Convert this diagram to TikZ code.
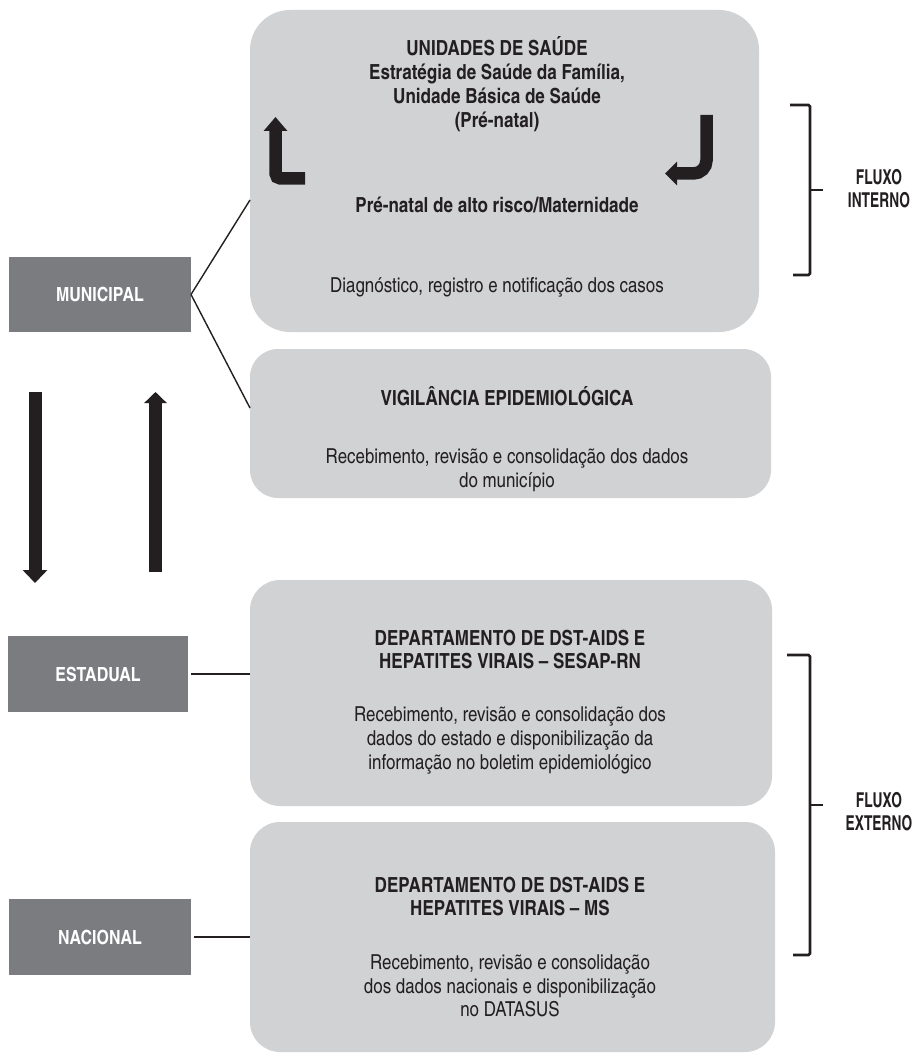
\documentclass[tikz,border=0pt]{standalone}
\usepackage{fontspec}
\setmainfont{texgyreheroscn}[Extension=.otf, UprightFont=*-regular, BoldFont=*-bold, ItalicFont=*-italic, BoldItalicFont=*-bolditalic]
\newfontfamily\lblfont{texgyreheroscn}[Extension=.otf, UprightFont=*-bold, FakeStretch=0.82]
\usetikzlibrary{arrows.meta}
\definecolor{boxgray}{HTML}{D1D2D4}
\definecolor{levelgray}{HTML}{7B7C80}
\definecolor{ink}{HTML}{231F20}
\tikzset{
  lbox/.style={draw=none, fill=boxgray, inner sep=0pt, outer sep=0pt},
  lvl/.style={draw=none, fill=levelgray, inner sep=0pt, outer sep=0pt, text=white,
    font=\fontsize{19.5}{24}\selectfont\bfseries},
  hd/.style={inner sep=0pt, anchor=base, text=ink, font=\fontsize{20.8}{24}\selectfont\bfseries},
  tx/.style={inner sep=0pt, anchor=base, text=ink, font=\fontsize{20.6}{24}\selectfont},
  flx/.style={inner sep=0pt, anchor=base, text=ink, font=\fontsize{20.5}{24}\lblfont},
  conn/.style={draw=ink, line width=1.4pt},
  fat/.style={draw=ink, line width=12.5pt},
  brk/.style={draw=ink, line width=2.6pt, rounded corners=1.5pt},
}
\begin{document}
\begin{tikzpicture}[x=1pt, y=-1pt]
\useasboundingbox[fill=white] (0,0) rectangle (914,1059);

% big grey boxes
\node[lbox, minimum width=509pt, minimum height=322pt, rounded corners=40pt] (ubs) at (504.5,171) {};
\node[lbox, minimum width=521pt, minimum height=149pt, rounded corners=28pt] (vig) at (510.5,423.5) {};
\node[lbox, minimum width=522pt, minimum height=226pt, rounded corners=30pt] (sesap) at (511,693) {};
\node[lbox, minimum width=525pt, minimum height=230pt, rounded corners=30pt] (ms) at (512.5,937) {};

% level boxes
\node[lvl, minimum width=182pt, minimum height=75pt] (mun) at (100,294.5) {MUNICIPAL};
\node[lvl, minimum width=180pt, minimum height=76pt] (est) at (98,674) {ESTADUAL};
\node[lvl, minimum width=182pt, minimum height=76pt] (nac) at (100,937) {NACIONAL};

% connectors
\draw[conn] (mun.east) -- (ubs.west |- 0,200);
\draw[conn] (mun.east) -- (vig.west |- 0,408);
\draw[conn, shorten <=3pt] (est.east) -- (sesap.west |- est.east);
\draw[conn, shorten <=3pt] (nac.east) -- (ms.west |- nac.east);

% texts in UBS box
\node[hd] (u1) at (497,56) {UNIDADES DE SAÚDE};
\node[hd] (u2) at (497,80) {Estratégia de Saúde da Família,};
\node[hd] (u3) at (497,104) {Unidade Básica de Saúde};
\node[hd] (u4) at (497,128) {(Pré-natal)};
\node[hd] (u5) at (497,213) {Pré-natal de alto risco/Maternidade};
\node[tx] (u6) at (497,292) {Diagnóstico, registro e notificação dos casos};

% curved arrows in UBS box
\draw[fat, rounded corners=5pt, -{Triangle[width=23pt,length=14pt]}] (305,178.5) -- (275.5,178.5) -- (275.5,117);
\draw[fat, rounded corners=13pt, -{Triangle[width=23pt,length=12pt]}] (706.5,115) -- (706.5,173.5) -- (665,173.5);

% vigilancia
\node[hd] (v1) at (507,405) {VIGILÂNCIA EPIDEMIOLÓGICA};
\node[tx] (v2) at (507,463) {Recebimento, revisão e consolidação dos dados};
\node[tx] (v3) at (507,487) {do município};

% sesap
\node[hd] (s1) at (510,645) {DEPARTAMENTO DE DST-AIDS E};
\node[hd] (s2) at (510,668) {HEPATITES VIRAIS – SESAP-RN};
\node[tx] (s3) at (510,721) {Recebimento, revisão e consolidação dos};
\node[tx] (s4) at (510,745) {dados do estado e disponibilização da};
\node[tx] (s5) at (510,769) {informação no boletim epidemiológico};

% ms
\node[hd] (m1) at (510,892) {DEPARTAMENTO DE DST-AIDS E};
\node[hd] (m2) at (510,915) {HEPATITES VIRAIS – MS};
\node[tx] (m3) at (510,969) {Recebimento, revisão e consolidação};
\node[tx] (m4) at (510,993) {dos dados nacionais e disponibilização};
\node[tx] (m5) at (510,1016) {no DATASUS};

% vertical arrows
\draw[draw=ink, line width=13pt, -{Triangle[width=24pt,length=13pt]}] (35,392) -- (35,583);
\draw[draw=ink, line width=13pt, -{Triangle[width=22pt,length=11pt]}] (155.5,572) -- (155.5,392);

% brackets
\draw[brk] (790,105) -- (810,105) -- (810,275) -- (793,275);
\draw[brk] (810,190) -- (823,190);
\node[flx] (fi1) at (879,185) {FLUXO};
\node[flx] (fi2) at (879,208) {INTERNO};

\draw[brk] (787,655) -- (810,655) -- (810,955) -- (793,955);
\draw[brk] (810,805) -- (823,805);
\node[flx] (fe1) at (879,807) {FLUXO};
\node[flx] (fe2) at (879,830) {EXTERNO};
\end{tikzpicture}
\end{document}
